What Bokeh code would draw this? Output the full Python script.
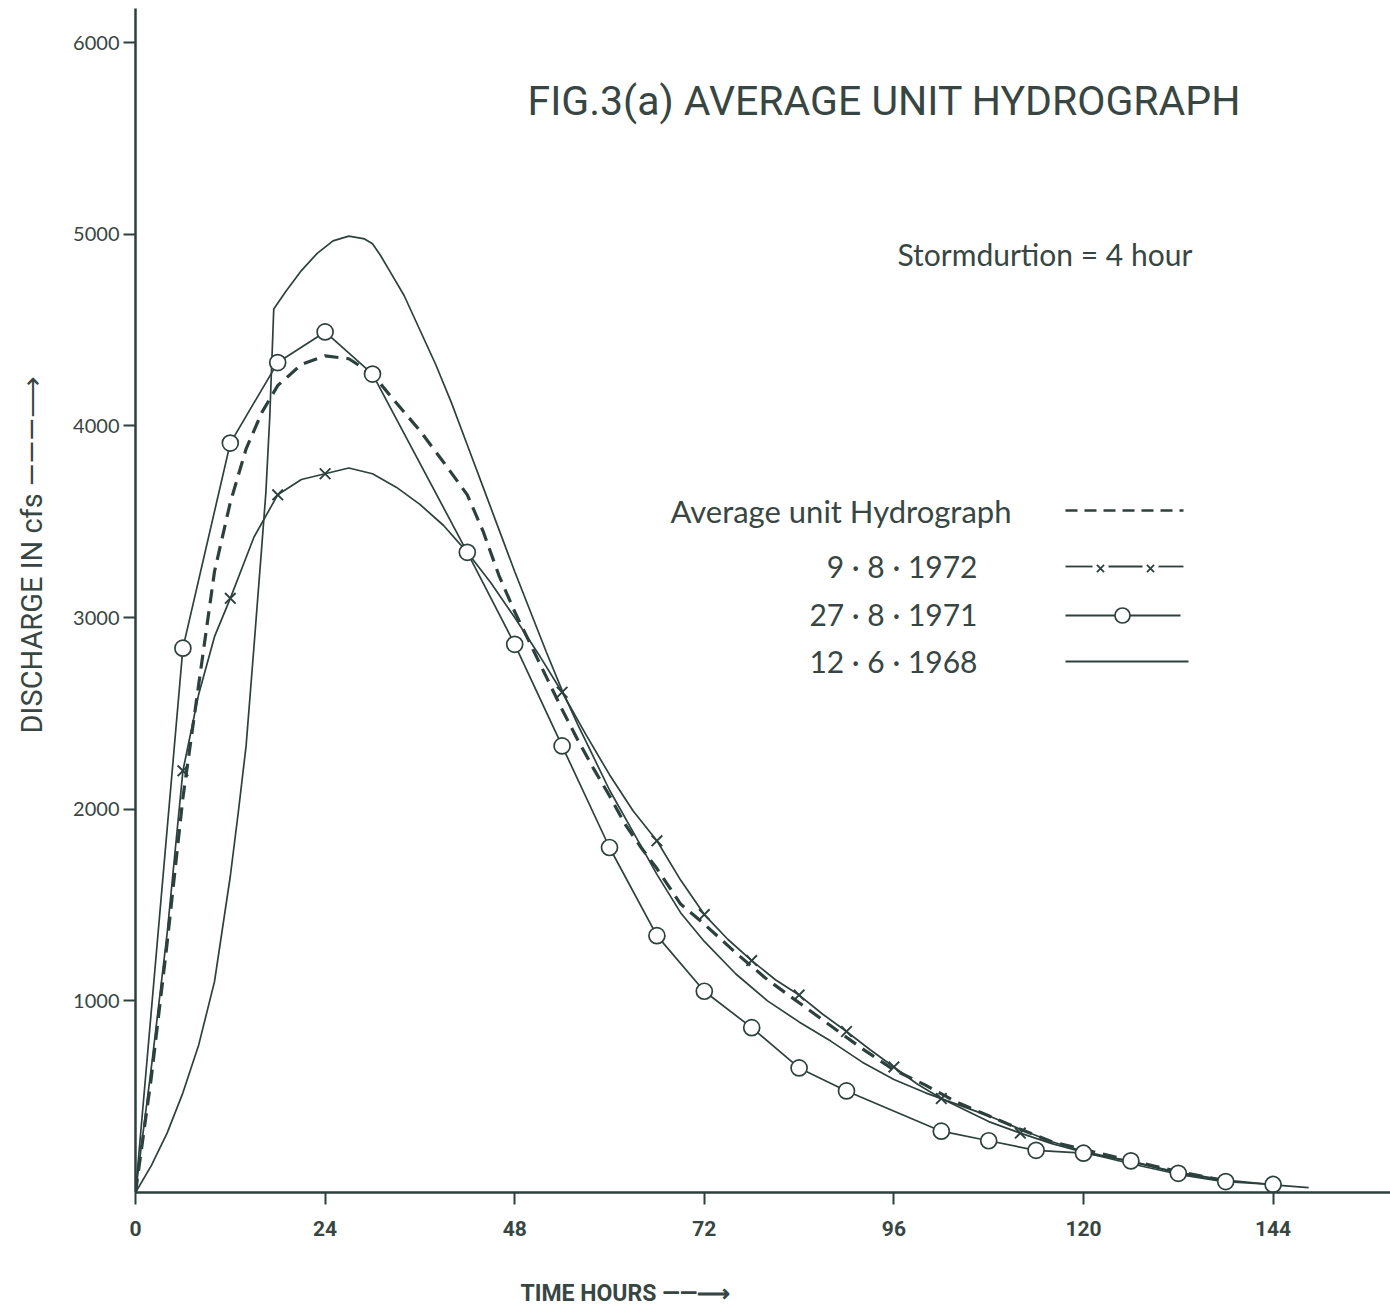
import math
from bokeh.plotting import figure
from bokeh.models import Label, Range1d, FixedTicker, Title
from bokeh.embed import file_html
from bokeh.resources import INLINE

# ---------------- data ----------------
X_TICKS = [0, 24, 48, 72, 96, 120, 144]
Y_TICKS = [1000, 2000, 3000, 4000, 5000, 6000]

# 27.8.1971 (open circles)
T_1971 = [0, 6, 12, 18, 24, 30, 42, 48, 54, 60, 66, 72, 78, 84, 90, 102, 108, 114, 120, 126, 132, 138, 144]
Q_1971 = [0, 2840, 3910, 4330, 4490, 4270, 3340, 2860, 2330, 1800, 1340, 1050, 860, 650, 530, 320, 270, 220, 205, 165, 100, 57, 42]

# 9.8.1972 (line with x marks)
T_1972 = [0, 2, 4, 6, 8, 10, 12, 15, 18, 21, 24, 27, 30, 33, 36, 39, 42, 45, 48, 51, 54, 57, 60, 63, 66, 69, 72, 75, 78, 81, 84, 87, 90, 93, 96, 99, 102, 105, 108, 112, 116, 120, 126, 132, 138]
Q_1972 = [0, 650, 1350, 2200, 2600, 2900, 3100, 3420, 3640, 3720, 3750, 3780, 3750, 3680, 3590, 3480, 3340, 3180, 3000, 2810, 2610, 2390, 2180, 1990, 1835, 1630, 1450, 1320, 1210, 1110, 1030, 930, 840, 745, 655, 565, 490, 430, 370, 310, 255, 210, 150, 95, 55]
T_1972_MARK = [6, 12, 18, 24, 54, 66, 72, 78, 84, 90, 96, 102, 112, 120]

# Average unit hydrograph (dashed)
T_AVG = [0, 2, 4, 6, 8, 10, 12, 14, 16, 18, 21, 24, 27, 30, 33, 36, 39, 42, 44, 46, 48, 50, 52, 54, 56, 58, 60, 62, 64, 66, 69, 72, 76, 80, 84, 88, 92, 96, 100, 104, 108, 112, 116, 120, 126, 132, 138]
Q_AVG = [0, 600, 1300, 2060, 2650, 3240, 3600, 3880, 4070, 4210, 4320, 4365, 4350, 4270, 4120, 3975, 3810, 3640, 3450, 3220, 3030, 2860, 2690, 2520, 2360, 2210, 2070, 1920, 1800, 1690, 1505, 1400, 1250, 1110, 990, 870, 750, 640, 560, 470, 400, 330, 265, 225, 165, 110, 60]

# 12.6.1968 (plain solid line)
T_1968 = [0, 2, 4, 6, 8, 10, 12, 13, 14, 15, 16, 16.5, 17, 17.5, 19, 21, 23, 25, 27, 29, 30, 31, 32, 34, 36, 38, 40, 42, 44, 46, 48, 50, 52, 54, 56, 58, 60, 63, 66, 69, 72, 76, 80, 84, 88, 92, 96, 100, 104, 108, 112, 116, 120, 126, 132, 138, 144, 148.5]
Q_1968 = [0, 140, 310, 520, 770, 1100, 1650, 1980, 2330, 2850, 3380, 3650, 4050, 4610, 4700, 4810, 4900, 4965, 4990, 4975, 4950, 4890, 4820, 4680, 4500, 4320, 4120, 3900, 3680, 3460, 3240, 3030, 2820, 2620, 2440, 2270, 2100, 1880, 1660, 1460, 1310, 1140, 1000, 890, 790, 680, 590, 520, 460, 400, 330, 265, 215, 160, 105, 65, 40, 25]

# ---------------- layout ----------------
W, H = 1390, 1311
FL, FR, FT, FB = 135, 1390, 8, 1192
PX_PER_H = 7.9
PX_PER_Q = 1150 / 6000.0
XMAX = (FR - FL) / PX_PER_H
YMAX = (FB - FT) / PX_PER_Q

INK = "#2c413d"
TXT = "#384643"


def hx(px):
    return (px - FL) / PX_PER_H


def qy(py):
    return (FB - py) / PX_PER_Q


p = figure(width=W, height=H, x_range=Range1d(0, XMAX), y_range=Range1d(0, YMAX),
           output_backend="svg", toolbar_location=None,
           min_border_left=FL, min_border_right=0, min_border_top=FT, min_border_bottom=H - FB)
p.grid.visible = False
p.outline_line_color = None
p.background_fill_color = "white"
p.border_fill_color = "white"

for ax in (p.xaxis, p.yaxis):
    ax.axis_line_color = INK
    ax.axis_line_width = 2.5
    ax.major_tick_line_color = INK
    ax.major_tick_line_width = 2
    ax.major_tick_in = 0
    ax.minor_tick_in = 0
    ax.minor_tick_out = 0
    ax.major_label_text_color = TXT

p.xaxis.ticker = FixedTicker(ticks=X_TICKS)
p.xaxis.major_tick_out = 12
p.xaxis.major_label_standoff = 16
p.xaxis.major_label_text_font = "Roboto"
p.xaxis.major_label_text_font_style = "bold"
p.xaxis.major_label_text_font_size = "21px"

p.yaxis.ticker = FixedTicker(ticks=Y_TICKS)
p.yaxis.major_tick_out = 12
p.yaxis.major_label_standoff = 4
p.yaxis.major_label_text_font = "Lato"
p.yaxis.major_label_text_font_size = "20px"

# axis titles (outside the frame -> side-panel titles, pushed outward by blank spacers)
p.add_layout(Title(text=" ", text_font_size="4px"), "left")
p.add_layout(Title(text="DISCHARGE IN cfs ———⟶", align="left", offset=FB - 733,
                   text_font="Roboto", text_font_size="29px", text_font_style="normal",
                   text_color=TXT), "left")
p.add_layout(Title(text=" ", text_font_size="20px"), "below")
p.add_layout(Title(text="TIME  HOURS ——⟶", align="left", offset=520 - FL,
                   text_font="Roboto", text_font_size="23px", text_font_style="bold",
                   text_color=TXT), "below")

# ---------------- curves ----------------
p.line(T_1968, Q_1968, line_color=INK, line_width=1.7)
p.line(T_1972, Q_1972, line_color=INK, line_width=1.7)
p.line(T_1971, Q_1971, line_color=INK, line_width=1.7)
p.line(T_AVG, Q_AVG, line_color=INK, line_width=3.2, line_dash="14 8")

Q_1972_MARK = [Q_1972[T_1972.index(t)] for t in T_1972_MARK]
p.scatter(T_1972_MARK, Q_1972_MARK, marker="x", size=15, line_color=INK, line_width=1.9)
p.scatter(T_1971[1:], Q_1971[1:], marker="circle", size=16, fill_color="white",
          line_color=INK, line_width=1.7)

# ---------------- texts inside the frame ----------------
p.add_layout(Label(x=hx(527), y=qy(100), text="FIG.3(a) AVERAGE UNIT HYDROGRAPH",
                   text_font="Roboto", text_font_size="41px", text_color=TXT,
                   text_baseline="middle", text_align="left"))
p.add_layout(Label(x=hx(897), y=qy(253), text="Stormdurtion = 4 hour",
                   text_font="Lato", text_font_size="30px", text_color=TXT,
                   text_baseline="middle", text_align="left"))

# legend
p.add_layout(Label(x=hx(670), y=qy(510), text="Average unit Hydrograph",
                   text_font="Lato", text_font_size="31px", text_color=TXT,
                   text_baseline="middle", text_align="left"))
for lab, py in (("9 · 8 · 1972", 565), ("27 · 8 · 1971", 613), ("12 · 6 · 1968", 660)):
    p.add_layout(Label(x=hx(977), y=qy(py), text=lab, text_font="Lato", text_font_size="30px",
                       text_color=TXT, text_baseline="middle", text_align="right"))

p.line([hx(1065), hx(1183)], [qy(510), qy(510)], line_color=INK, line_width=2.5, line_dash="12 7")
for a, b in ((1065, 1092), (1108, 1142), (1158, 1183)):
    p.line([hx(a), hx(b)], [qy(566), qy(566)], line_color=INK, line_width=1.8)
p.scatter([hx(1100), hx(1150)], [qy(568), qy(568)], marker="x", size=10, line_color=INK, line_width=1.8)
p.line([hx(1065), hx(1180)], [qy(615), qy(615)], line_color=INK, line_width=1.8)
p.scatter([hx(1122)], [qy(615)], marker="circle", size=15, fill_color="white", line_color=INK, line_width=1.7)
p.line([hx(1065), hx(1188)], [qy(661), qy(661)], line_color=INK, line_width=1.8)

open("out.html", "w").write(file_html(p, INLINE))
